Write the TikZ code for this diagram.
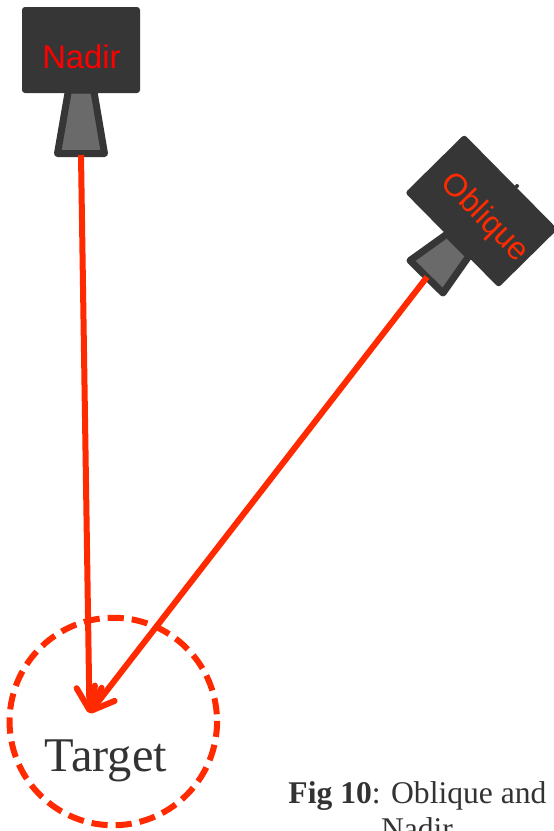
\documentclass[tikz,border=0pt]{standalone}
\usepackage{fontspec}
\usetikzlibrary{arrows.meta}
\setmainfont{Liberation Serif}
\newfontfamily\labelsans{Liberation Sans}
\definecolor{camdark}{HTML}{363636}
\definecolor{conegray}{HTML}{6A6A6A}
\definecolor{rayred}{HTML}{FF2A00}
\definecolor{textgray}{HTML}{333333}
\tikzset{
  cambody/.style={fill=camdark,draw=none,rounded corners=3,inner sep=0,outer sep=0},
  camcone/.style={fill=conegray,draw=camdark,line width=7,line join=round},
  raytip/.style={-{Straight Barb[length=22,width=25,round,line width=6]}},
  ray/.style={draw=rayred,line width=6,raytip},
  camlabel/.style={font=\labelsans\fontsize{32.8}{36}\selectfont,inner sep=0},
  targetring/.style={draw=rayred,line width=6,dash pattern=on 16.2 off 8},
  seriflabel/.style={text=textgray,inner sep=0,anchor=base},
}
\begin{document}
\begin{tikzpicture}[x=1pt,y=-1pt]
\useasboundingbox (0,0) rectangle (554,831);
\clip (0,0) rectangle (554,831);
\fill[white] (0,0) rectangle (554,831);
% Nadir camera
\draw[camcone] (68.5,90) -- (57.5,153.5) -- (104.5,153.5) -- (93.7,90) -- cycle;
\node[cambody,minimum width=118,minimum height=86] (nadirbody) at (81,50) {};
\node[camlabel,text=red,anchor=base] (nadirlabel) at (81.5,68) {Nadir};
% Oblique camera
\draw[camcone] (447,234) -- (410,260.5) -- (443,293) -- (469,256) -- cycle;
\node[cambody,rotate=-45.4,minimum width=133,minimum height=83] (obliquebody) at (481.4,211) {};
\fill[camdark] (517,186) circle (2);
\node[camlabel,text=rayred,rotate=-45.4,font=\labelsans\fontsize{32}{36}\selectfont] (obliquelabel) at (484.5,218) {Oblique};
% Target
\node[circle,targetring,minimum size=207.5,inner sep=0,rotate=4] (target) at (113.3,721.5) {};
\coordinate (aim) at (89.5,713);
\coordinate (nadirlens) at (81,155);
\coordinate (obliquelens) at (427,277);
\draw[ray] (nadirlens) -- (aim);
\draw[ray] (obliquelens) -- (aim);
\node[seriflabel,font=\fontsize{48.4}{50}\selectfont] (targetlabel) at (106,771.5) {Target};
% Caption
\node[seriflabel,font=\fontsize{31.6}{36}\selectfont] (caption1) at (417.5,803) {\textbf{Fig 10}: Oblique and};
\node[seriflabel,font=\fontsize{31.6}{36}\selectfont] (caption2) at (417,839) {Nadir};
\end{tikzpicture}
\end{document}
